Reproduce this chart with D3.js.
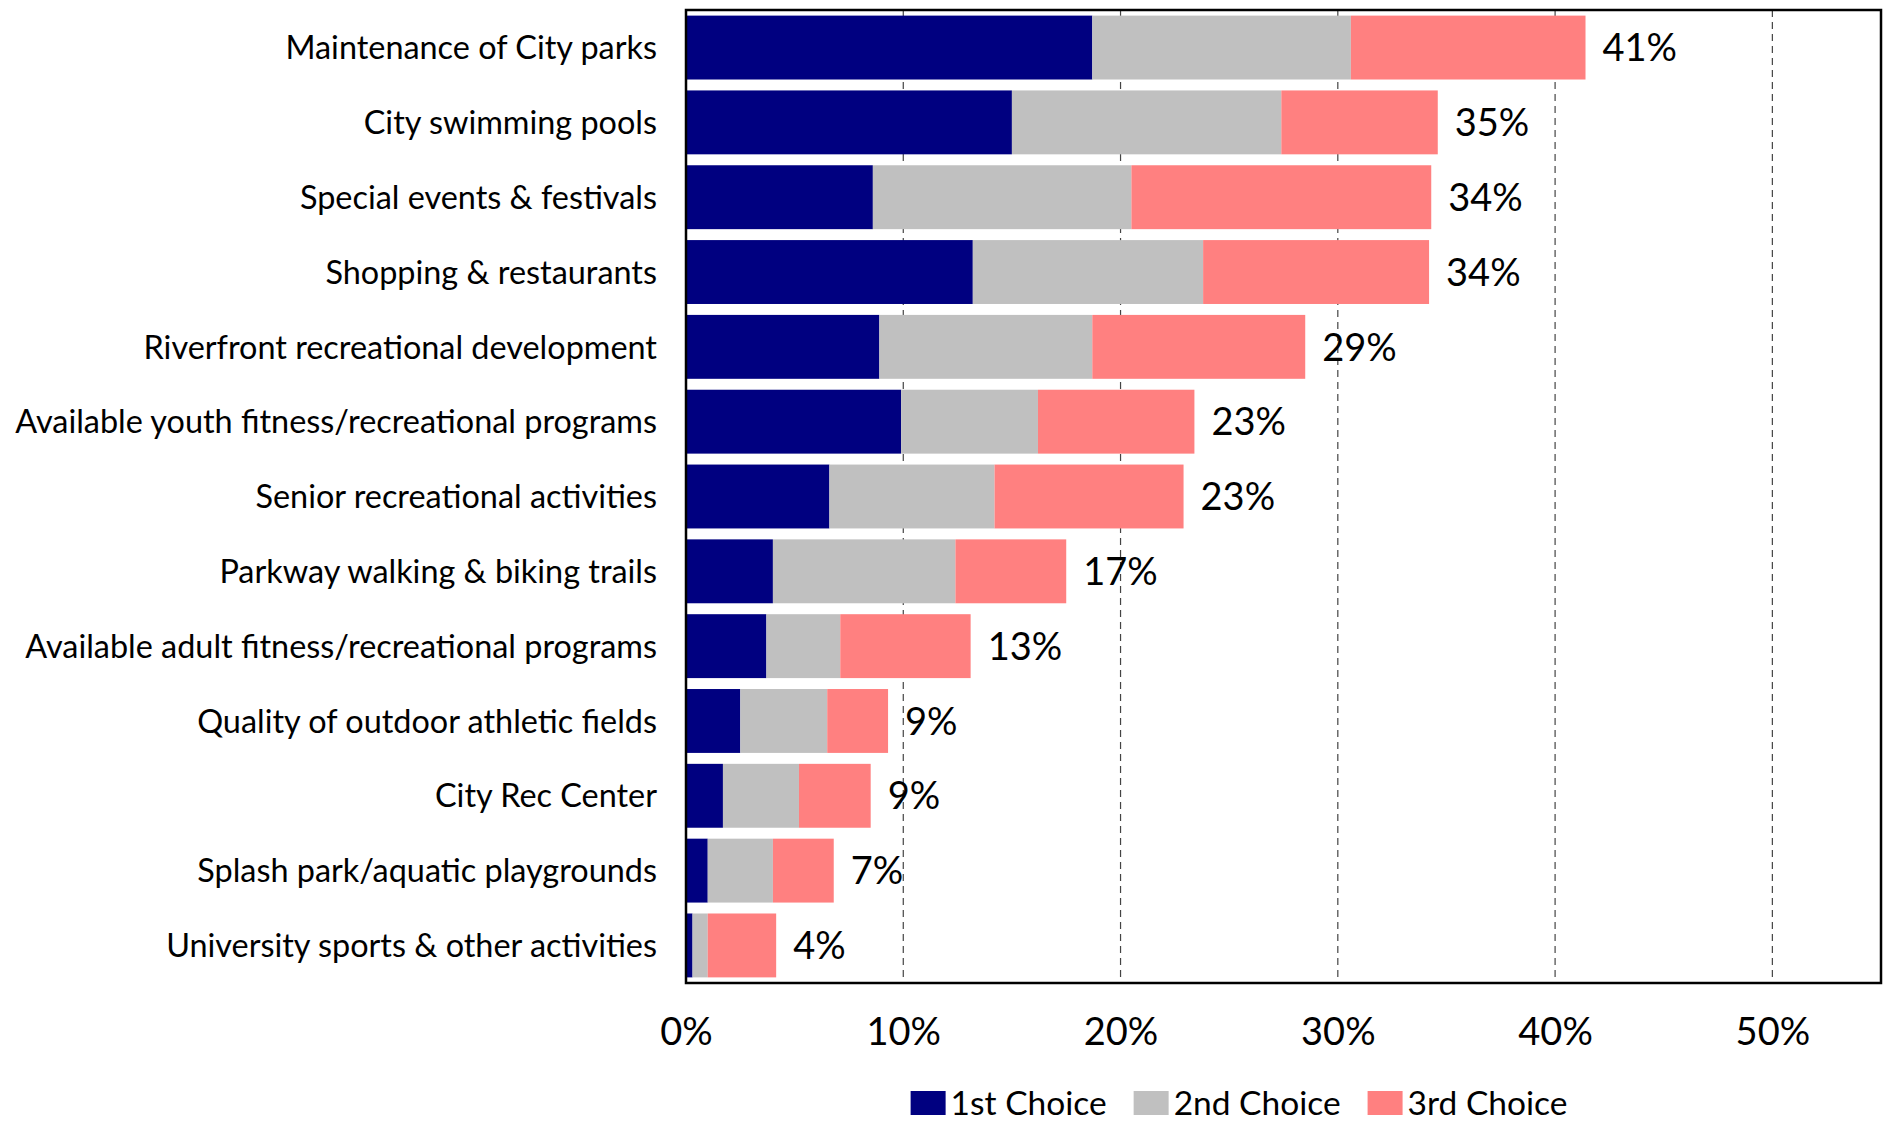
<!DOCTYPE html>
<html>
<head>
<meta charset="utf-8">
<script src="https://cdn.jsdelivr.net/npm/d3@7"></script>
<style>
  html, body { margin: 0; padding: 0; background: #fff; }
  svg { display: block; font-family: Lato, "Open Sans", sans-serif; }
</style>
</head>
<body>
<div id="chart"></div>
<script>
// Ranked amenities, stacked by 1st / 2nd / 3rd choice (percent of respondents)
const categories = [
  'Maintenance of City parks',
  'City swimming pools',
  'Special events & festivals',
  'Shopping & restaurants',
  'Riverfront recreational development',
  'Available youth fitness/recreational programs',
  'Senior recreational activities',
  'Parkway walking & biking trails',
  'Available adult fitness/recreational programs',
  'Quality of outdoor athletic fields',
  'City Rec Center',
  'Splash park/aquatic playgrounds',
  'University sports & other activities'
];
const firstChoice  = [18.7, 15.0, 8.6, 13.2, 8.9, 9.9, 6.6, 4.0, 3.7, 2.5, 1.7, 1.0, 0.3];
const secondChoice = [11.9, 12.4, 11.9, 10.6, 9.8, 6.3, 7.6, 8.4, 3.4, 4.0, 3.5, 3.0, 0.7];
const thirdChoice  = [10.8, 7.2, 13.8, 10.4, 9.8, 7.2, 8.7, 5.1, 6.0, 2.8, 3.3, 2.8, 3.15];
const totalLabels  = ['41%', '35%', '34%', '34%', '29%', '23%', '23%', '17%', '13%', '9%', '9%', '7%', '4%'];
const seriesNames  = ['1st Choice', '2nd Choice', '3rd Choice'];
const seriesColors = ['#000080', '#C0C0C0', '#FF8080'];
const xTicks = [0, 10, 20, 30, 40, 50];

const width = 1887, height = 1123;
const margin = { top: 10, right: 6, bottom: 140, left: 686 };

const svg = d3.select('#chart').append('svg')
    .attr('width', width)
    .attr('height', height);

svg.append('rect').attr('width', width).attr('height', height).attr('fill', '#fff');

const x = d3.scaleLinear()
    .domain([0, 55])
    .range([margin.left, width - margin.right]);

const y = d3.scaleBand()
    .domain(categories)
    .range([margin.top, height - margin.bottom])
    .paddingInner(0.146)
    .paddingOuter(0.075);

// table for the stack layout
const rows = categories.map((c, i) => ({
    cat: c,
    '1st Choice': firstChoice[i],
    '2nd Choice': secondChoice[i],
    '3rd Choice': thirdChoice[i],
    label: totalLabels[i]
}));
const stacked = d3.stack().keys(seriesNames)(rows);

// dashed gridlines
svg.append('g')
    .selectAll('line')
    .data(xTicks.filter(d => d > 0))
    .join('line')
    .attr('x1', d => x(d)).attr('x2', d => x(d))
    .attr('y1', margin.top).attr('y2', height - margin.bottom)
    .attr('stroke', '#444')
    .attr('stroke-width', 1.2)
    .attr('stroke-dasharray', '7,5');

// bars
svg.append('g')
    .selectAll('g')
    .data(stacked)
    .join('g')
    .attr('fill', (d, i) => seriesColors[i])
    .selectAll('rect')
    .data(d => d)
    .join('rect')
    .attr('x', d => x(d[0]))
    .attr('y', d => y(d.data.cat))
    .attr('width', d => x(d[1]) - x(d[0]))
    .attr('height', y.bandwidth());

// total labels
const last = stacked[stacked.length - 1];
svg.append('g')
    .selectAll('text')
    .data(last)
    .join('text')
    .attr('x', d => x(d[1]) + 17)
    .attr('y', d => y(d.data.cat) + y.bandwidth() / 2)
    .attr('dy', '0.36em')
    .attr('font-size', 38)
    .attr('fill', '#000')
    .text(d => d.data.label);

// category labels
svg.append('g')
    .selectAll('text')
    .data(categories)
    .join('text')
    .attr('x', margin.left - 29)
    .attr('y', d => y(d) + y.bandwidth() / 2)
    .attr('dy', '0.36em')
    .attr('text-anchor', 'end')
    .attr('font-size', 32.4)
    .attr('fill', '#000')
    .text(d => d);

// x axis labels
const xAxis = svg.append('g')
    .attr('transform', `translate(0,${height - margin.bottom})`)
    .call(d3.axisBottom(x).tickValues(xTicks).tickSize(0).tickPadding(35).tickFormat(d => d + '%'));
xAxis.select('.domain').remove();
xAxis.selectAll('text')
    .attr('font-size', 38)
    .attr('font-family', 'Lato, "Open Sans", sans-serif')
    .attr('fill', '#000');

// plot frame
svg.append('rect')
    .attr('x', margin.left)
    .attr('y', margin.top)
    .attr('width', width - margin.right - margin.left)
    .attr('height', height - margin.bottom - margin.top)
    .attr('fill', 'none')
    .attr('stroke', '#000')
    .attr('stroke-width', 2.5);

// legend
const legend = svg.append('g').attr('transform', 'translate(0,1103)');
const items = legend.selectAll('g')
    .data(seriesNames)
    .join('g');
items.append('rect')
    .attr('y', -12)
    .attr('width', 35)
    .attr('height', 24)
    .attr('fill', (d, i) => seriesColors[i]);
items.append('text')
    .attr('x', 40)
    .attr('dy', '0.36em')
    .attr('font-size', 33.5)
    .attr('fill', '#000')
    .text(d => d);

// lay legend items side by side, centred
let offset = 0;
const widths = [];
items.each(function() {
    widths.push(this.getBBox().width);
});
const gap = 27;
const total = d3.sum(widths) + gap * (widths.length - 1);
const start = 1239 - total / 2;
items.attr('transform', (d, i) => {
    const t = `translate(${start + offset},0)`;
    offset += widths[i] + gap;
    return t;
});
</script>
</body>
</html>
